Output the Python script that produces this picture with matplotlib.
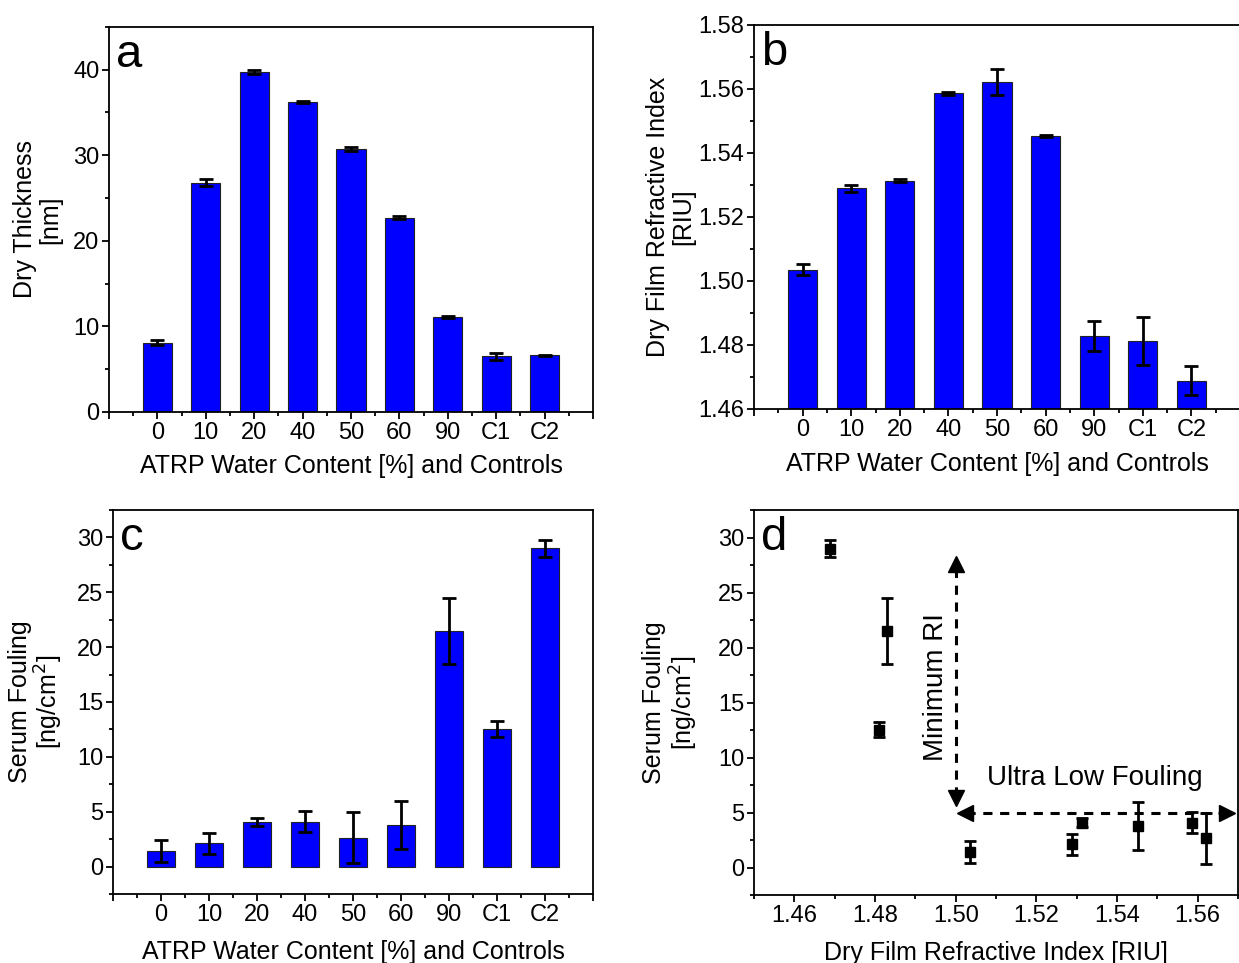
import numpy as np
import matplotlib
matplotlib.use("Agg")
import matplotlib.pyplot as plt
from matplotlib.ticker import MultipleLocator, FixedLocator

plt.rcParams['font.family'] = ['Liberation Sans', 'DejaVu Sans']

categories = ["0", "10", "20", "40", "50", "60", "90", "C1", "C2"]

thickness = [8.1, 26.8, 39.7, 36.2, 30.7, 22.7, 11.1, 6.5, 6.6]
thickness_err = [0.3, 0.4, 0.2, 0.1, 0.2, 0.15, 0.15, 0.4, 0.1]

refr_index = [1.5035, 1.5289, 1.5313, 1.5586, 1.5621, 1.5453, 1.4829, 1.4811, 1.4689]
refr_err = [0.0017, 0.0011, 0.0005, 0.0004, 0.0041, 0.0004, 0.0047, 0.0075, 0.0046]

fouling = [1.43, 2.1, 4.07, 4.07, 2.64, 3.77, 21.5, 12.54, 29.0]
fouling_err = [1.0, 0.94, 0.39, 0.95, 2.3, 2.2, 3.0, 0.7, 0.75]

TICK_FS = 17
LABEL_FS = 18
LETTER_FS = 34
BLUE = "#0000FF"
x = np.arange(len(categories))

fig = plt.figure(figsize=(12.39, 9.63), dpi=100)
ax_a = fig.add_axes([0.088, 0.5722, 0.3906, 0.400])
ax_b = fig.add_axes([0.6086, 0.5753, 0.3922, 0.3988])
ax_c = fig.add_axes([0.0912, 0.0717, 0.3874, 0.3987])
ax_d = fig.add_axes([0.6086, 0.0706, 0.3906, 0.3998])


def style(ax):
    for s in ax.spines.values():
        s.set_linewidth(1.3)
    ax.tick_params(which="both", direction="out", top=False, right=False,
                   labelsize=TICK_FS, pad=2, width=1.3)
    ax.tick_params(which="major", length=5)
    ax.tick_params(which="minor", length=3)


def bar_panel(ax, vals, errs, ylim, major, minor, letter, ylabel):
    ax.bar(x, vals, width=0.6, color=BLUE, edgecolor="#222222", linewidth=0.8, zorder=2)
    ax.errorbar(x, vals, yerr=errs, fmt="none", ecolor="black", elinewidth=2,
                capsize=5, capthick=2, zorder=3)
    ax.set_xlim(-1, 9)
    ax.set_ylim(*ylim)
    ax.xaxis.set_major_locator(FixedLocator(np.arange(-1, 10)))
    ax.set_xticklabels([""] + categories + [""])
    ax.xaxis.set_minor_locator(MultipleLocator(0.5))
    ax.yaxis.set_major_locator(MultipleLocator(major))
    ax.yaxis.set_minor_locator(MultipleLocator(minor))
    style(ax)
    ax.set_xlabel("ATRP Water Content [%] and Controls", fontsize=LABEL_FS)
    ax.set_ylabel(ylabel, fontsize=LABEL_FS, linespacing=1.05)
    ax.text(0.015, 0.985, letter, transform=ax.transAxes, fontsize=LETTER_FS,
            va="top", ha="left")


bar_panel(ax_a, thickness, thickness_err, (0, 45), 10, 5, "a", "Dry Thickness\n[nm]")
ax_a.yaxis.set_label_coords(-0.097, 0.5)
ax_a.xaxis.set_label_coords(0.5, -0.108)

bar_panel(ax_b, refr_index, refr_err, (1.46, 1.58), 0.02, 0.01, "b",
          "Dry Film Refractive Index\n[RIU]")
ax_b.yaxis.set_major_formatter(plt.FormatStrFormatter("%.2f"))
ax_b.yaxis.set_label_coords(-0.121, 0.5)
ax_b.xaxis.set_label_coords(0.5, -0.113)

bar_panel(ax_c, fouling, fouling_err, (-2.5, 32.5), 5, 2.5, "c",
          "Serum Fouling\n[ng/cm$^2$]")
ax_c.yaxis.set_label_coords(-0.10, 0.5)
ax_c.xaxis.set_label_coords(0.5, -0.12)

# panel d: fouling vs refractive index
ax_d.errorbar(refr_index, fouling, yerr=fouling_err, fmt="s", color="black",
              markersize=7, elinewidth=2, capsize=4, capthick=2, zorder=3)
ax_d.set_xlim(1.45, 1.57)
ax_d.set_ylim(-2.5, 32.5)
ax_d.xaxis.set_major_locator(MultipleLocator(0.02))
ax_d.xaxis.set_minor_locator(MultipleLocator(0.01))
ax_d.xaxis.set_major_formatter(plt.FormatStrFormatter("%.2f"))
ax_d.yaxis.set_major_locator(MultipleLocator(5))
ax_d.yaxis.set_minor_locator(MultipleLocator(2.5))
style(ax_d)
ax_d.set_xlabel("Dry Film Refractive Index [RIU]", fontsize=LABEL_FS)
ax_d.set_ylabel("Serum Fouling\n[ng/cm$^2$]", fontsize=LABEL_FS, linespacing=1.05)
ax_d.yaxis.set_label_coords(-0.112, 0.5)
ax_d.xaxis.set_label_coords(0.5, -0.12)
ax_d.text(0.015, 0.985, "d", transform=ax_d.transAxes, fontsize=LETTER_FS,
          va="top", ha="left")

# dashed double arrows
dash = dict(color="black", lw=2.2, linestyle=(0, (3, 2.5)), clip_on=False)
ax_d.plot([1.500, 1.500], [6.5, 27.3], **dash)
ax_d.plot([1.5025, 1.5665], [5.0, 5.0], **dash)
head = dict(color="black", markersize=11, linestyle="none", clip_on=False)
ax_d.plot([1.500], [27.6], marker="^", **head)
ax_d.plot([1.500], [6.3], marker="v", **head)
ax_d.plot([1.5022], [5.0], marker="<", **head)
ax_d.plot([1.5672], [5.0], marker=">", **head)
ax_d.text(1.4952, 16.4, "Minimum RI", rotation=90, fontsize=20,
          ha="center", va="center")
ax_d.text(1.5346, 8.1, "Ultra Low Fouling", fontsize=20, ha="center", va="center")

fig.savefig("out.png", dpi=100)
